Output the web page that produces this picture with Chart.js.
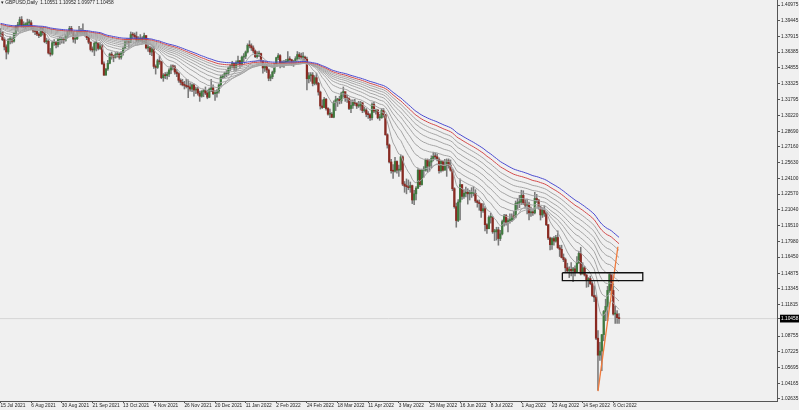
<!DOCTYPE html>
<html>
<head>
<meta charset="utf-8">
<script src="https://cdn.jsdelivr.net/npm/chart.js@4.4.0/dist/chart.umd.min.js"></script>
<style>
  html, body { margin: 0; padding: 0; background: #f0f0f0; }
  #wrap { position: relative; width: 799px; height: 410px; }
  #title { position: absolute; left: 1px; top: 0px; font: 4.8px 'Liberation Sans', Arial, sans-serif; color: #222; white-space: pre; }
</style>
</head>
<body>
<div id="wrap">
  <canvas id="price-chart" width="799" height="410"></canvas>
  <div id="title"></div>
</div>
<script>
// GBPUSD daily, 15 Jul 2021 .. 11 Oct 2022 (bar index 0 = 15 Jul 2021)
var symbolName = 'GBPUSD,Daily';
var firstOpen = 1.3820;

var closes = [
  1.3830, 1.3760,
  1.3690, 1.3640, 1.3760, 1.3760, 1.3745,  1.3820, 1.3890, 1.3905, 1.3955, 1.3900,
  1.3905, 1.3905, 1.3925, 1.3925, 1.3875,  1.3845, 1.3840, 1.3815, 1.3800, 1.3870,
  1.3830, 1.3740, 1.3745, 1.3630, 1.3620,  1.3730, 1.3735, 1.3710, 1.3760, 1.3760,
  1.3760, 1.3755, 1.3795, 1.3835, 1.3870,  1.3835, 1.3765, 1.3770, 1.3830, 1.3840,
  1.3820, 1.3830, 1.3815, 1.3780, 1.3735,  1.3665, 1.3660, 1.3725, 1.3730, 1.3675,
  1.3700, 1.3525, 1.3415, 1.3475, 1.3530,  1.3620, 1.3605, 1.3590, 1.3615, 1.3620,
  1.3590, 1.3635, 1.3675, 1.3745, 1.3745,  1.3735, 1.3810, 1.3805, 1.3790, 1.3755,
  1.3755, 1.3775, 1.3745, 1.3800, 1.3680,  1.3680, 1.3640, 1.3670, 1.3500, 1.3490,
  1.3555, 1.3545, 1.3390, 1.3415, 1.3410,  1.3425, 1.3465, 1.3500, 1.3495, 1.3445,
  1.3430, 1.3365, 1.3345, 1.3320, 1.3315,  1.3305, 1.3300, 1.3280, 1.3320, 1.3270,
  1.3280, 1.3240, 1.3210, 1.3255, 1.3265,  1.3240, 1.3200, 1.3275, 1.3290, 1.3235,
  1.3240, 1.3260, 1.3320, 1.3395, 1.3410,  1.3430, 1.3435, 1.3485, 1.3505, 1.3530,
  1.3490, 1.3535, 1.3555, 1.3525, 1.3590,  1.3600, 1.3640, 1.3705, 1.3700, 1.3680,
  1.3650, 1.3595, 1.3620, 1.3625, 1.3555,  1.3485, 1.3505, 1.3465, 1.3385, 1.3400,
  1.3445, 1.3510, 1.3585, 1.3605, 1.3530,  1.3530, 1.3540, 1.3545, 1.3570, 1.3565,
  1.3535, 1.3540, 1.3575, 1.3615, 1.3595,  1.3590, 1.3590, 1.3570, 1.3380, 1.3410,
  1.3415, 1.3335, 1.3390, 1.3335, 1.3250,  1.3115, 1.3100, 1.3180, 1.3090, 1.3035,
  1.3035, 1.3005, 1.3150, 1.3175, 1.3180,  1.3165, 1.3240, 1.3255, 1.3190, 1.3185,
  1.3090, 1.3120, 1.3150, 1.3140, 1.3115,  1.3115, 1.3145, 1.3070, 1.3075, 1.3035,
  1.3030, 1.3000, 1.3130, 1.3065, 1.3075,  1.3000, 1.3000, 1.3070, 1.3030, 1.2835,
  1.2735, 1.2570, 1.2485, 1.2480, 1.2575,  1.2490, 1.2495, 1.2620, 1.2355, 1.2335,
  1.2330, 1.2320, 1.2340, 1.2200, 1.2260,  1.2315, 1.2490, 1.2350, 1.2490, 1.2490,
  1.2590, 1.2530, 1.2570, 1.2605, 1.2625,  1.2620, 1.2595, 1.2485, 1.2575, 1.2490,
  1.2535, 1.2580, 1.2535, 1.2490, 1.2310,  1.2135, 1.2000, 1.2180, 1.2350, 1.2235,
  1.2265, 1.2275, 1.2260, 1.2265, 1.2265,  1.2265, 1.2190, 1.2175, 1.2165, 1.2095,
  1.2115, 1.1960, 1.1920, 1.2030, 1.2030,  1.1890, 1.1890, 1.1910, 1.1825, 1.1870,
  1.1990, 1.2050, 1.1980, 1.2000, 1.2005,  1.2040, 1.2035, 1.2165, 1.2175, 1.2180,
  1.2245, 1.2170, 1.2150, 1.2160, 1.2075,  1.2080, 1.2075, 1.2215, 1.2200, 1.2130,
  1.2055, 1.2100, 1.2070, 1.1960, 1.1830,  1.1765, 1.1825, 1.1800, 1.1835, 1.1735,
  1.1720, 1.1640, 1.1620, 1.1540, 1.1510,  1.1525, 1.1510, 1.1530, 1.1500, 1.1590,
  1.1680, 1.1480, 1.1540, 1.1470, 1.1420,  1.1435, 1.1385, 1.1270, 1.1255, 1.0855,
  1.0690, 1.0730, 1.0890, 1.1115, 1.1165,  1.1320, 1.1475, 1.1320, 1.1090, 1.1090,
  1.10551, 1.10458
];

var highs = [
  1.3870, 1.3840,
  1.3780, 1.3710, 1.3770, 1.3790, 1.3780,  1.3830, 1.3900, 1.3930, 1.3980, 1.3985,
  1.3935, 1.3925, 1.3960, 1.3955, 1.3945,  1.3880, 1.3870, 1.3865, 1.3830, 1.3880,
  1.3870, 1.3840, 1.3775, 1.3760, 1.3675,  1.3745, 1.3760, 1.3745, 1.3775, 1.3790,
  1.3785, 1.3780, 1.3810, 1.3845, 1.3890,  1.3890, 1.3840, 1.3810, 1.3845, 1.3890,
  1.3870, 1.3915, 1.3850, 1.3840, 1.3790,  1.3740, 1.3690, 1.3740, 1.3750, 1.3725,
  1.3730, 1.3715, 1.3545, 1.3480, 1.3560,  1.3630, 1.3640, 1.3610, 1.3635, 1.3640,
  1.3635, 1.3645, 1.3690, 1.3760, 1.3770,  1.3770, 1.3835, 1.3830, 1.3825, 1.3835,
  1.3790, 1.3810, 1.3790, 1.3825, 1.3800,  1.3720, 1.3695, 1.3690, 1.3695, 1.3515,
  1.3570, 1.3605, 1.3550, 1.3430, 1.3440,  1.3445, 1.3480, 1.3515, 1.3515, 1.3510,
  1.3470, 1.3440, 1.3380, 1.3375, 1.3355,  1.3375, 1.3370, 1.3340, 1.3330, 1.3330,
  1.3300, 1.3300, 1.3260, 1.3265, 1.3275,  1.3300, 1.3270, 1.3290, 1.3375, 1.3320,
  1.3265, 1.3275, 1.3330, 1.3415, 1.3420,  1.3445, 1.3460, 1.3495, 1.3515, 1.3550,
  1.3530, 1.3555, 1.3600, 1.3560, 1.3600,  1.3625, 1.3650, 1.3720, 1.3750, 1.3720,
  1.3700, 1.3660, 1.3645, 1.3650, 1.3630,  1.3560, 1.3520, 1.3520, 1.3475, 1.3420,
  1.3455, 1.3530, 1.3590, 1.3625, 1.3615,  1.3555, 1.3560, 1.3570, 1.3645, 1.3595,
  1.3570, 1.3560, 1.3595, 1.3645, 1.3635,  1.3630, 1.3635, 1.3600, 1.3590, 1.3440,
  1.3440, 1.3440, 1.3410, 1.3435, 1.3345,  1.3260, 1.3175, 1.3200, 1.3190, 1.3100,
  1.3085, 1.3050, 1.3165, 1.3210, 1.3190,  1.3210, 1.3250, 1.3300, 1.3240, 1.3220,
  1.3195, 1.3175, 1.3175, 1.3180, 1.3150,  1.3160, 1.3160, 1.3150, 1.3105, 1.3090,
  1.3060, 1.3040, 1.3145, 1.3150, 1.3085,  1.3080, 1.3035, 1.3090, 1.3090, 1.3035,
  1.2845, 1.2745, 1.2595, 1.2545, 1.2615,  1.2580, 1.2540, 1.2640, 1.2630, 1.2380,
  1.2405, 1.2395, 1.2375, 1.2345, 1.2295,  1.2330, 1.2505, 1.2500, 1.2500, 1.2525,
  1.2600, 1.2600, 1.2595, 1.2630, 1.2665,  1.2660, 1.2650, 1.2610, 1.2585, 1.2580,
  1.2595, 1.2600, 1.2600, 1.2590, 1.2500,  1.2320, 1.2170, 1.2205, 1.2405, 1.2350,
  1.2300, 1.2325, 1.2310, 1.2295, 1.2320,  1.2330, 1.2300, 1.2200, 1.2200, 1.2160,
  1.2165, 1.2135, 1.1970, 1.2045, 1.2070,  1.2040, 1.1915, 1.1935, 1.1935, 1.1905,
  1.2005, 1.2060, 1.2060, 1.2020, 1.2065,  1.2065, 1.2090, 1.2190, 1.2215, 1.2245,
  1.2295, 1.2290, 1.2205, 1.2210, 1.2180,  1.2130, 1.2110, 1.2275, 1.2255, 1.2205,
  1.2140, 1.2125, 1.2145, 1.2080, 1.1960,  1.1840, 1.1835, 1.1845, 1.1855, 1.1900,
  1.1760, 1.1760, 1.1675, 1.1635, 1.1585,  1.1550, 1.1590, 1.1545, 1.1560, 1.1650,
  1.1700, 1.1740, 1.1590, 1.1555, 1.1475,  1.1445, 1.1460, 1.1405, 1.1365, 1.1275,
  1.0930, 1.0815, 1.0890, 1.1125, 1.1235,  1.1360, 1.1495, 1.1475, 1.1385, 1.1165,
  1.1125, 1.10952
];

var lows = [
  1.3790, 1.3750,
  1.3660, 1.3572, 1.3620, 1.3720, 1.3725,  1.3735, 1.3800, 1.3850, 1.3890, 1.3880,
  1.3875, 1.3865, 1.3880, 1.3880, 1.3860,  1.3830, 1.3810, 1.3800, 1.3780, 1.3790,
  1.3805, 1.3730, 1.3720, 1.3620, 1.3600,  1.3610, 1.3705, 1.3680, 1.3690, 1.3715,
  1.3725, 1.3725, 1.3745, 1.3780, 1.3810,  1.3820, 1.3735, 1.3725, 1.3760, 1.3820,
  1.3800, 1.3810, 1.3795, 1.3760, 1.3720,  1.3650, 1.3640, 1.3605, 1.3650, 1.3660,
  1.3665, 1.3520, 1.3412, 1.3415, 1.3460,  1.3525, 1.3570, 1.3545, 1.3580, 1.3590,
  1.3570, 1.3570, 1.3610, 1.3670, 1.3720,  1.3685, 1.3730, 1.3770, 1.3765, 1.3740,
  1.3735, 1.3740, 1.3730, 1.3725, 1.3670,  1.3645, 1.3615, 1.3605, 1.3480, 1.3425,
  1.3480, 1.3520, 1.3380, 1.3355, 1.3380,  1.3375, 1.3400, 1.3430, 1.3465, 1.3425,
  1.3400, 1.3345, 1.3320, 1.3310, 1.3280,  1.3290, 1.3195, 1.3260, 1.3255, 1.3210,
  1.3235, 1.3220, 1.3160, 1.3200, 1.3205,  1.3225, 1.3185, 1.3195, 1.3255, 1.3225,
  1.3170, 1.3200, 1.3240, 1.3300, 1.3380,  1.3390, 1.3400, 1.3415, 1.3460, 1.3485,
  1.3460, 1.3455, 1.3515, 1.3490, 1.3510,  1.3545, 1.3575, 1.3630, 1.3680, 1.3655,
  1.3630, 1.3585, 1.3580, 1.3595, 1.3540,  1.3435, 1.3450, 1.3440, 1.3360, 1.3360,
  1.3380, 1.3430, 1.3500, 1.3565, 1.3485,  1.3495, 1.3490, 1.3510, 1.3530, 1.3515,
  1.3510, 1.3500, 1.3520, 1.3560, 1.3575,  1.3570, 1.3540, 1.3535, 1.3270, 1.3340,
  1.3355, 1.3310, 1.3320, 1.3320, 1.3220,  1.3085, 1.3090, 1.3100, 1.3075, 1.3025,
  1.3000, 1.3000, 1.3000, 1.3070, 1.3110,  1.3135, 1.3140, 1.3200, 1.3160, 1.3150,
  1.3080, 1.3050, 1.3090, 1.3120, 1.3090,  1.3100, 1.3075, 1.3050, 1.3055, 1.3010,
  1.2995, 1.2975, 1.2980, 1.3050, 1.3035,  1.2990, 1.2975, 1.2995, 1.3005, 1.2830,
  1.2705, 1.2560, 1.2460, 1.2410, 1.2470,  1.2460, 1.2430, 1.2480, 1.2340, 1.2275,
  1.2260, 1.2300, 1.2275, 1.2165, 1.2155,  1.2200, 1.2310, 1.2330, 1.2345, 1.2420,
  1.2480, 1.2470, 1.2480, 1.2510, 1.2580,  1.2600, 1.2580, 1.2460, 1.2470, 1.2480,
  1.2490, 1.2430, 1.2510, 1.2480, 1.2290,  1.2120, 1.1935, 1.1990, 1.2005, 1.2205,
  1.2215, 1.2230, 1.2160, 1.2200, 1.2225,  1.2240, 1.2175, 1.2130, 1.2100, 1.2030,
  1.2080, 1.1900, 1.1875, 1.1920, 1.1975,  1.1875, 1.1805, 1.1810, 1.1760, 1.1805,
  1.1860, 1.1945, 1.1955, 1.1890, 1.1975,  1.1990, 1.2010, 1.2025, 1.2110, 1.2125,
  1.2155, 1.2155, 1.2120, 1.2065, 1.2005,  1.2040, 1.2050, 1.2065, 1.2175, 1.2110,
  1.2005, 1.2030, 1.2040, 1.1950, 1.1815,  1.1715, 1.1720, 1.1760, 1.1790, 1.1730,
  1.1650, 1.1635, 1.1600, 1.1500, 1.1500,  1.1445, 1.1460, 1.1405, 1.1460, 1.1495,
  1.1580, 1.1470, 1.1480, 1.1460, 1.1350,  1.1355, 1.1375, 1.1260, 1.1210, 1.0840,
  1.0350, 1.0640, 1.0540, 1.0830, 1.1025,  1.1025, 1.1300, 1.1280, 1.1080, 1.1000,
  1.0998, 1.09977
];

var currentPrice = 1.10458;

// ribbon of moving averages and the value each one had at the left edge
var maPeriods = [10, 20, 30, 40, 50, 60, 70, 80, 90, 100];
var maStart   = [1.3800, 1.3830, 1.3850, 1.3870, 1.3880, 1.3890, 1.3900, 1.3910, 1.3910, 1.3920];
var maColours = ['#a4a4a4', '#a4a4a4', '#a4a4a4', '#a4a4a4', '#a4a4a4',
                 '#a4a4a4', '#a4a4a4', '#a4a4a4', '#d24a4a', '#4a4ad0'];

// axis labels
var dateTickBars = [0, 16, 32, 48, 64, 80, 96, 112, 128, 144, 160, 176, 192, 208, 224, 240, 256, 272, 288, 304, 320];
var dateLabels = ['15 Jul 2021', '6 Aug 2021', '30 Aug 2021', '21 Sep 2021', '13 Oct 2021', '4 Nov 2021',
                  '26 Nov 2021', '20 Dec 2021', '11 Jan 2022', '2 Feb 2022', '24 Feb 2022', '18 Mar 2022',
                  '11 Apr 2022', '3 May 2022', '25 May 2022', '16 Jun 2022', '8 Jul 2022', '1 Aug 2022',
                  '23 Aug 2022', '14 Sep 2022', '6 Oct 2022'];
var priceTicks = [1.40975, 1.39445, 1.37915, 1.36385, 1.34855, 1.33325, 1.31795, 1.30220, 1.28690,
                  1.27160, 1.25630, 1.24100, 1.22570, 1.21040, 1.19510, 1.17980, 1.16450, 1.14875,
                  1.13345, 1.11815, 1.08755, 1.07225, 1.05695, 1.04165, 1.02635];

// drawn objects: rectangle and trend line
var boxBars = [293.4, 335.4];
var boxPrices = [1.1492, 1.1415];
var trendBars = [312, 322.4];
var trendPrices = [1.0340, 1.1745];

var fontName = "'Liberation Sans', Arial, sans-serif";
var priceChart;

makeEma = function (period, start) {
  var k = 2 / (period + 1);
  var v = start;
  var out = [];
  for (let i = 0; i < closes.length; i++) {
    v = v + k * (closes[i] - v);
    out.push({ x: i, y: v });
  }
  return out;
}

makePriceChart = function () {
  var n = closes.length;
  var opens = closes.map(function (c, i) { return i === 0 ? firstOpen : closes[i - 1]; });

  document.getElementById('title').textContent = '\u25BE ' + symbolName + '  ' +
    [opens[n - 1], highs[n - 1], lows[n - 1], closes[n - 1]].map(function (v) { return v.toFixed(5); }).join(' ');

  const datasets = [];

  // bid line
  datasets.push({
    type: 'line', data: [{ x: -5, y: currentPrice }, { x: 500, y: currentPrice }],
    borderColor: '#d6d6d6', borderWidth: 1, pointRadius: 0, order: 20
  });

  // candles: wicks, then bodies
  datasets.push({
    type: 'bar', grouped: false, order: 12,
    data: closes.map(function (c, i) { return { x: i, y: [lows[i], highs[i]] }; }),
    backgroundColor: '#7a7a7a', barThickness: 0.9
  });
  datasets.push({
    type: 'bar', grouped: false, order: 11, minBarLength: 1,
    data: closes.map(function (c, i) { return { x: i, y: [opens[i], c] }; }),
    backgroundColor: function (ctx) {
      var r = ctx.raw;
      return r && r.y[1] >= r.y[0] ? '#3f7a3f' : '#8a2a22';
    },
    barThickness: 1.6
  });

  // moving averages
  for (let m = 0; m < maPeriods.length; m++) {
    datasets.push({
      type: 'line', data: makeEma(maPeriods[m], maStart[m]),
      borderColor: maColours[m], borderWidth: 1, pointRadius: 0, order: 9 - m
    });
  }

  // rectangle
  datasets.push({
    type: 'line', order: 0, pointRadius: 0, borderColor: '#111', borderWidth: 1.3,
    data: [{ x: boxBars[0], y: boxPrices[0] }, { x: boxBars[1], y: boxPrices[0] },
           { x: boxBars[1], y: boxPrices[1] }, { x: boxBars[0], y: boxPrices[1] },
           { x: boxBars[0], y: boxPrices[0] }]
  });
  // trend line
  datasets.push({
    type: 'line', order: 0, pointRadius: 0, borderColor: '#f07a3c', borderWidth: 1.3,
    data: [{ x: trendBars[0], y: trendPrices[0] }, { x: trendBars[1], y: trendPrices[1] }]
  });

  var ctx = document.getElementById('price-chart').getContext('2d');
  priceChart = new Chart(ctx, {
    type: 'line',
    data: { datasets: datasets },
    options: {
      responsive: false,
      animation: false,
      devicePixelRatio: 1,
      events: [],
      layout: { padding: 0 },
      plugins: { legend: { display: false }, tooltip: { enabled: false } },
      scales: {
        x: {
          type: 'linear', position: 'bottom', min: -0.3, max: 405.5, offset: false,
          afterBuildTicks: function (s) { s.ticks = dateTickBars.map(function (v) { return { value: v }; }); },
          afterFit: function (s) { s.height = 9; s.paddingLeft = 0; s.paddingRight = 0; },
          ticks: {
            autoSkip: false, maxRotation: 0, align: 'start', padding: 0, color: '#222',
            font: { family: fontName, size: 4.8 },
            callback: function (v, i) { return dateLabels[i]; }
          },
          grid: { drawOnChartArea: false, tickLength: 2, color: '#555', offset: false },
          border: { color: '#555' }
        },
        y: {
          type: 'linear', position: 'right', min: 1.02439, max: 1.41462,
          afterBuildTicks: function (s) {
            s.ticks = priceTicks.concat([currentPrice]).map(function (v) { return { value: v }; });
          },
          afterFit: function (s) { s.width = 22; s.paddingTop = 0; s.paddingBottom = 0; },
          ticks: {
            autoSkip: false, padding: 1,
            font: { family: fontName, size: 4.8 },
            color: function (c) { return c.tick && c.tick.value === currentPrice ? '#fff' : '#222'; },
            showLabelBackdrop: true,
            backdropColor: function (c) { return c.tick && c.tick.value === currentPrice ? '#000' : 'rgba(0,0,0,0)'; },
            backdropPadding: { x: 1, y: 1 },
            callback: function (v) { return v.toFixed(5); }
          },
          grid: { drawOnChartArea: false, tickLength: 3, color: '#555' },
          border: { color: '#555' }
        }
      }
    }
  });
}

makePriceChart();
</script>
</body>
</html>
